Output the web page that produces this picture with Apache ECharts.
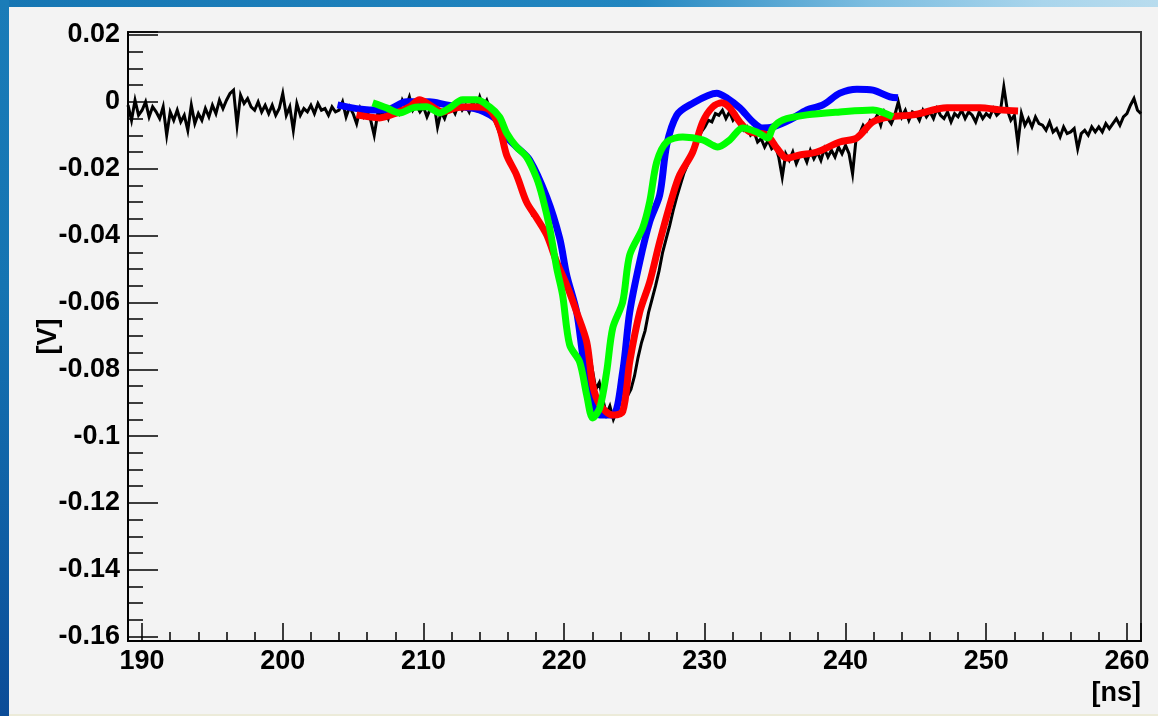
<!DOCTYPE html>
<html><head><meta charset="utf-8">
<script src="https://cdn.jsdelivr.net/npm/echarts@6/dist/echarts.min.js"></script>
<style>
html,body{margin:0;padding:0;width:1158px;height:716px;overflow:hidden;background:#1470ad;}
#topstrip{position:absolute;left:0;top:0;width:1158px;height:7px;background:linear-gradient(90deg,#1676b3 0%,#2286c0 55%,#7cbde0 75%,#a9d5ec 90%,#b8dcee 100%);}
#leftstrip{position:absolute;left:0;top:0;width:9px;height:716px;background:linear-gradient(180deg,#1a7cb8 0%,#1574b2 40%,#0f5ea4 75%,#0b4c97 100%);}
#panel{position:absolute;left:9px;top:7px;width:1149px;height:707px;background:#f3f3f3;border-bottom:2px solid #ecebd9;}
#chart{position:absolute;left:0;top:0;width:1158px;height:716px;}
</style></head>
<body>
<div id="topstrip"></div><div id="leftstrip"></div><div id="panel"></div>
<div id="chart"></div>
<script>
// black measured waveform, mV, sampled every 0.25 ns from 189 ns
const blackStart = 189;
const blackStep = 0.25;
const blackMv = [
 -1.0, -5.5, 0.5, -4.0,
 -2.5, 0.0, -4.5, -1.5,
 -3.0, -5.0, -1.5, -10.0,
 -3.0, -5.5, -2.5, -6.0,
 -4.0, -8.5, -1.0, -6.5,
 -3.5, -5.5, -2.0, -4.5,
 -1.0, -3.5, 0.5, -2.0,
 0.5, 2.5, 3.5, -7.0,
 2.0, -0.5, 1.0, -1.5,
 -2.5, 0.0, -3.0, -1.0,
 -3.5, -1.0, -4.0, -2.0,
 2.5, -4.0, -1.5, -8.5,
 -0.5, -4.0, -2.0, -3.0,
 -1.0, -3.5, -0.5, -2.5,
 -2.0, -4.0, -1.5, -3.0,
 -2.5, 0.0, -4.5, -1.5,
 -3.5, -6.5, -2.0, -4.5,
 -3.0, -5.5, -10.0, -3.5,
 -4.0, -2.5, -5.0, -1.5,
 -2.0, -3.5, 0.5, -1.5,
 1.5, -2.5, -1.0, -3.0,
 -1.5, -4.5, -2.0, -0.5,
 -7.5, -3.0, -5.0, -2.0,
 -1.5, -3.5, -0.5, -2.5,
 -1.0, -3.0, 0.0, -2.0,
 1.5, -1.5, 0.5, -2.5,
 -5.0, -7.5, -10.5, -14.0,
 -17.0, -19.5, -21.0, -23.5,
 -26.0, -29.5, -31.0, -34.0,
 -34.5, -36.5, -38.0, -40.0,
 -42.5, -45.5, -48.0, -50.5,
 -52.5, -55.0, -57.5, -60.5,
 -63.5, -66.5, -70.0, -73.5,
 -80.0, -86.0, -84.0, -89.0,
 -93.5, -91.0, -95.0, -92.5,
 -93.5, -90.5, -88.0, -86.0,
 -82.0, -76.5, -72.0, -68.5,
 -63.0, -59.0, -55.0, -50.5,
 -45.0, -41.0, -37.0, -32.5,
 -28.5, -25.0, -21.5, -19.0,
 -16.0, -13.0, -11.5, -9.0,
 -7.5, -5.5, -6.0, -3.5,
 -4.0, -2.5, -5.0, -3.0,
 -5.5, -4.0, -7.0, -8.5,
 -7.5, -10.0, -9.0, -12.0,
 -11.0, -13.5, -11.5, -14.0,
 -13.0, -16.5, -22.5, -15.5,
 -17.5, -15.0, -18.5, -16.0,
 -15.5, -18.0, -14.5, -17.0,
 -15.0, -17.5, -14.0, -16.5,
 -14.5, -16.5, -13.5, -15.5,
 -13.0, -15.5, -21.5, -11.0,
 -9.5, -7.0, -8.5, -5.5,
 -6.0, -4.0, -7.0, -3.0,
 -5.0, -6.5, -4.0, 0.0,
 -4.5, -2.5, -5.5, -3.0,
 -3.5, -5.5, -2.5, -4.5,
 -3.0, -5.0, -2.0, -4.0,
 -5.0, -3.0, -6.0, -3.5,
 -4.5, -2.5, -5.0, -3.0,
 -4.0, -6.0, -3.0, -5.0,
 -3.5, -4.5, -2.0, -4.0,
 -3.0, 4.5, -2.5, -5.5,
 -4.0, -12.5, -3.5, -7.0,
 -5.0, -7.5, -4.5, -6.5,
 -7.0, -8.5, -6.0, -9.0,
 -8.0, -10.5, -7.5, -9.5,
 -9.0, -8.0, -14.0, -9.5,
 -8.5, -10.0, -7.5, -9.0,
 -7.5, -9.0, -6.5, -8.0,
 -6.5, -5.0, -7.0, -4.5,
 -3.5, -1.0, 1.0, -2.5,
 -3.5
];

// blue curve (ns, V)
const blueT = [203.89,206.17,207.38,208.80,210.43,211.64,212.78,213.99,215.20,215.91,216.62,217.55,218.76,219.68,220.18,220.89,221.32,221.82,222.53,223.45,224.16,224.66,225.37,226.08,226.79,227.29,228.00,228.93,230.85,231.56,232.48,233.41,234.05,234.83,236.04,237.25,238.39,239.60,240.81,241.95,243.16,243.73];
const blueV = [-0.0009,-0.0024,-0.0024,0.0000,0.0000,-0.0009,-0.0015,-0.0024,-0.0054,-0.0105,-0.0135,-0.0174,-0.0285,-0.0408,-0.0518,-0.0629,-0.0758,-0.0877,-0.0937,-0.0937,-0.0808,-0.0629,-0.0479,-0.0359,-0.0279,-0.0129,-0.0040,-0.0009,0.0026,0.0012,-0.0018,-0.0060,-0.0078,-0.0075,-0.0054,-0.0024,-0.0009,0.0026,0.0038,0.0035,0.0015,0.0012];

// red curve (ns, V)
const redT = [205.24,206.88,208.09,209.01,209.72,210.43,211.36,212.35,213.49,214.70,215.41,215.91,216.62,217.33,218.04,218.76,219.47,220.18,220.89,221.60,222.03,222.53,223.45,224.16,224.66,225.37,226.08,226.79,227.72,228.21,229.14,229.85,230.56,231.20,231.77,232.48,233.19,234.40,235.11,235.82,236.75,237.96,239.59,240.80,241.94,243.15,244.79,247.21,249.56,250.98,252.26];
const redV = [-0.0039,-0.0048,-0.0033,-0.0015,0.0006,-0.0009,-0.0030,-0.0018,-0.0015,-0.0024,-0.0078,-0.0159,-0.0219,-0.0300,-0.0347,-0.0398,-0.0479,-0.0548,-0.0629,-0.0718,-0.0847,-0.0906,-0.0937,-0.0927,-0.0778,-0.0629,-0.0539,-0.0419,-0.0279,-0.0219,-0.0150,-0.0060,-0.0015,-0.0003,-0.0018,-0.0060,-0.0090,-0.0099,-0.0138,-0.0168,-0.0159,-0.0150,-0.0120,-0.0108,-0.0060,-0.0045,-0.0039,-0.0018,-0.0018,-0.0024,-0.0027];

// green curve (ns, V)
const greenT = [206.39,207.38,208.30,209.23,210.22,211.15,211.86,212.78,213.78,214.70,215.41,215.91,216.62,217.33,218.04,218.47,218.97,219.47,219.89,220.39,221.10,221.60,222.03,222.53,223.02,223.45,224.16,224.66,225.58,226.08,226.58,227.29,228.43,229.85,230.92,231.77,232.69,233.69,234.47,234.83,235.54,237.25,239.60,241.95,243.37];
const greenV = [-0.0003,-0.0018,-0.0033,-0.0018,-0.0015,-0.0033,-0.0018,0.0006,0.0006,-0.0015,-0.0045,-0.0093,-0.0135,-0.0165,-0.0228,-0.0287,-0.0377,-0.0497,-0.0578,-0.0727,-0.0778,-0.0877,-0.0946,-0.0916,-0.0808,-0.0677,-0.0599,-0.0458,-0.0377,-0.0299,-0.0180,-0.0120,-0.0105,-0.0114,-0.0135,-0.0114,-0.0078,-0.0090,-0.0108,-0.0078,-0.0054,-0.0039,-0.0030,-0.0024,-0.0045];

const xMin = 189, xMax = 261, xStep = 10;
const yMin = -0.1613, yMax = 0.0209, yStep = 0.02;
const xTitle = '[ns]', yTitle = '[V]';

const pair = (t, v) => t.map((x, i) => [x, v[i]]);
const blackData = blackMv.map((v, i) => [blackStart + i * blackStep, v / 1000]);

const font = 'Liberation Sans, Arial, Helvetica, sans-serif';
const chart = echarts.init(document.getElementById('chart'), null, {renderer: 'canvas'});
chart.setOption({
  backgroundColor: 'transparent',
  animation: false,
  grid: {left: 128, right: 17, top: 32, bottom: 75, show: true, borderColor: '#3a3a3a', borderWidth: 2, backgroundColor: 'transparent'},
  xAxis: {
    type: 'value', min: xMin, max: xMax, splitNumber: 7, minInterval: xStep, maxInterval: xStep,
    axisLine: {show: true, onZero: false, lineStyle: {color: '#000', width: 2}},
    axisTick: {show: true, inside: true, length: 18, lineStyle: {color: '#000', width: 1.5}},
    minorTick: {show: true, splitNumber: 5, length: 9, lineStyle: {color: '#000', width: 1.5}},
    splitLine: {show: false},
    axisLabel: {
      margin: 7, color: '#000', fontSize: 27, fontWeight: 'bold', fontFamily: font,
      formatter: v => Math.abs(v / xStep - Math.round(v / xStep)) > 1e-6 ? '' : String(Math.round(v))
    }
  },
  yAxis: {
    type: 'value', min: yMin, max: yMax, splitNumber: 9, minInterval: yStep, maxInterval: yStep,
    name: yTitle, nameLocation: 'middle', nameGap: 66, nameRotate: 90, nameMoveOverlap: false,
    nameTextStyle: {color: '#000', fontSize: 27, fontWeight: 'bold', fontFamily: font},
    axisLine: {show: true, onZero: false, lineStyle: {color: '#000', width: 2}},
    axisTick: {show: true, inside: true, length: 30, lineStyle: {color: '#000', width: 1.5}},
    minorTick: {show: true, splitNumber: 4, length: 15, lineStyle: {color: '#000', width: 1.5}},
    splitLine: {show: false},
    axisLabel: {
      margin: 8, color: '#000', fontSize: 27, fontWeight: 'bold', fontFamily: font,
      formatter: v => {
        const r = Math.round(v / yStep);
        if (Math.abs(v / yStep - r) > 1e-6) return '';
        return String(+(r * yStep).toFixed(2));
      }
    }
  },
  graphic: [{
    type: 'text', right: 17, top: 680,
    style: {text: xTitle, fill: '#000', font: 'bold 27px ' + font}
  }],
  series: [
    {type: 'line', data: blackData, showSymbol: false, symbol: 'none', lineStyle: {color: '#000', width: 3, join: 'miter'}, z: 2},
    {type: 'line', data: pair(blueT, blueV), showSymbol: false, symbol: 'none', smooth: 0.3, lineStyle: {color: '#0000ff', width: 7}, z: 3},
    {type: 'line', data: pair(redT, redV), showSymbol: false, symbol: 'none', smooth: 0.3, lineStyle: {color: '#ff0000', width: 7}, z: 4},
    {type: 'line', data: pair(greenT, greenV), showSymbol: false, symbol: 'none', smooth: 0.3, lineStyle: {color: '#00ff00', width: 7}, z: 5}
  ]
});
</script>
</body></html>
